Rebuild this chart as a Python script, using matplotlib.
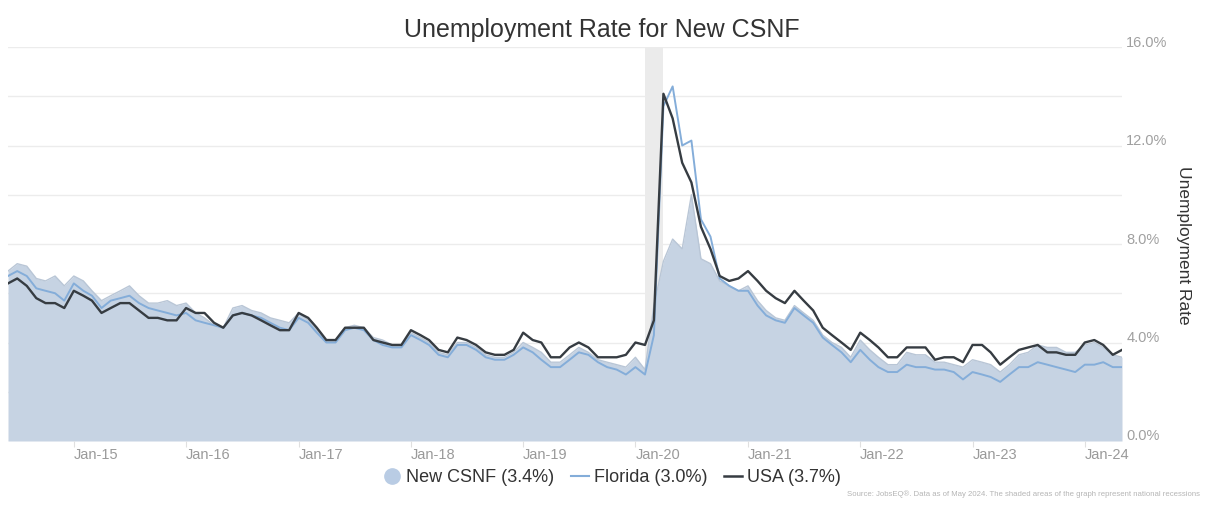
import numpy as np
import pandas as pd
import matplotlib
matplotlib.use("Agg")
import matplotlib.pyplot as plt
from matplotlib.lines import Line2D
from matplotlib.transforms import ScaledTranslation

plt.rcParams['font.family'] = ['Liberation Sans', 'DejaVu Sans']

# monthly, Jun 2014 .. May 2024 (not seasonally adjusted, %)
months = pd.date_range("2014-06-01", periods=120, freq="MS")

usa = [
    6.4, 6.6, 6.3, 5.8, 5.6, 5.6, 5.4,
    6.1, 5.9, 5.7, 5.2, 5.4, 5.6, 5.6, 5.3, 5.0, 5.0, 4.9, 4.9,
    5.4, 5.2, 5.2, 4.8, 4.6, 5.1, 5.2, 5.1, 4.9, 4.7, 4.5, 4.5,
    5.2, 5.0, 4.6, 4.1, 4.1, 4.6, 4.6, 4.6, 4.1, 4.0, 3.9, 3.9,
    4.5, 4.3, 4.1, 3.7, 3.6, 4.2, 4.1, 3.9, 3.6, 3.5, 3.5, 3.7,
    4.4, 4.1, 4.0, 3.4, 3.4, 3.8, 4.0, 3.8, 3.4, 3.4, 3.4, 3.5,
    4.0, 3.9, 4.9, 14.1, 13.1, 11.3, 10.5, 8.7, 7.8, 6.7, 6.5, 6.6,
    6.9, 6.5, 6.1, 5.8, 5.6, 6.1, 5.7, 5.3, 4.6, 4.3, 4.0, 3.7,
    4.4, 4.1, 3.8, 3.4, 3.4, 3.8, 3.8, 3.8, 3.3, 3.4, 3.4, 3.2,
    3.9, 3.9, 3.6, 3.1, 3.4, 3.7, 3.8, 3.9, 3.6, 3.6, 3.5, 3.5,
    4.0, 4.1, 3.9, 3.5, 3.7,
]

florida = [
    6.7, 6.9, 6.7, 6.2, 6.1, 6.0, 5.7,
    6.4, 6.1, 5.9, 5.4, 5.7, 5.8, 5.9, 5.6, 5.4, 5.3, 5.2, 5.1,
    5.2, 4.9, 4.8, 4.7, 4.6, 5.1, 5.2, 5.1, 5.0, 4.8, 4.6, 4.5,
    5.0, 4.8, 4.4, 4.0, 4.0, 4.5, 4.6, 4.5, 4.1, 3.9, 3.8, 3.8,
    4.3, 4.1, 3.9, 3.5, 3.4, 3.9, 3.9, 3.7, 3.4, 3.3, 3.3, 3.5,
    3.8, 3.6, 3.3, 3.0, 3.0, 3.3, 3.6, 3.5, 3.2, 3.0, 2.9, 2.7,
    3.0, 2.7, 4.3, 13.6, 14.4, 12.0, 12.2, 9.0, 8.3, 6.6, 6.3, 6.1,
    6.1, 5.5, 5.1, 4.9, 4.8, 5.4, 5.1, 4.8, 4.2, 3.9, 3.6, 3.2,
    3.7, 3.3, 3.0, 2.8, 2.8, 3.1, 3.0, 3.0, 2.9, 2.9, 2.8, 2.5,
    2.8, 2.7, 2.6, 2.4, 2.7, 3.0, 3.0, 3.2, 3.1, 3.0, 2.9, 2.8,
    3.1, 3.1, 3.2, 3.0, 3.0,
]

csnf = [
    6.9, 7.2, 7.1, 6.6, 6.5, 6.7, 6.3,
    6.7, 6.5, 6.1, 5.7, 5.9, 6.1, 6.3, 5.9, 5.6, 5.6, 5.7, 5.5,
    5.6, 5.2, 5.0, 4.7, 4.6, 5.4, 5.5, 5.3, 5.2, 5.0, 4.9, 4.8,
    5.2, 4.9, 4.5, 4.1, 4.1, 4.6, 4.7, 4.6, 4.2, 4.1, 3.9, 3.9,
    4.4, 4.2, 4.0, 3.6, 3.5, 4.0, 4.0, 3.8, 3.5, 3.4, 3.4, 3.6,
    4.0, 3.8, 3.6, 3.2, 3.2, 3.5, 3.8, 3.6, 3.3, 3.2, 3.1, 3.0,
    3.4, 2.9, 5.5, 7.3, 8.2, 7.8, 10.0, 7.4, 7.2, 6.5, 6.3, 6.1,
    6.3, 5.7, 5.3, 5.0, 4.9, 5.5, 5.2, 4.9, 4.3, 4.0, 3.8, 3.4,
    4.1, 3.7, 3.4, 3.1, 3.1, 3.6, 3.5, 3.5, 3.2, 3.2, 3.1, 3.0,
    3.3, 3.2, 3.1, 2.8, 3.1, 3.5, 3.6, 3.9, 3.8, 3.8, 3.6, 3.6,
    3.9, 4.0, 3.8, 3.5, 3.4,
]

recession = ("2020-02-01", "2020-04-01")
legend_labels = ["New CSNF (3.4%)", "Florida (3.0%)", "USA (3.7%)"]
tick_years = list(range(2015, 2025))
y_ticks = [0, 4, 8, 12, 16]

col_area = "#c6d3e3"
col_fl = "#84add9"
col_us = "#363c42"

fig = plt.figure(figsize=(12.06, 5.08), dpi=100)
ax = fig.add_axes([8/1206, 1-441/508, (1122-8)/1206, (441-47)/508])

# grid every 2%
for g in range(0, 17, 2):
    ax.axhline(g, color="#ececec", lw=1, zorder=0)

ax.axvspan(pd.Timestamp(recession[0]), pd.Timestamp(recession[1]),
           color="#ebebeb", zorder=0.5, lw=0)

ax.fill_between(months, csnf, 0, color=col_area, zorder=1, lw=0)
ax.plot(months, csnf, color="#b9c6d6", lw=1, zorder=1.5)
ax.plot(months, florida, color=col_fl, lw=1.4, zorder=2)
ax.plot(months, usa, color=col_us, lw=1.7, zorder=3)

ax.set_xlim(months[0], months[-1])
ax.set_ylim(0, 16)

for s in ax.spines.values():
    s.set_visible(False)

ticks = [pd.Timestamp(f"{y}-01-01") for y in tick_years]
ax.set_xticks(ticks)
ax.set_xticklabels([t.strftime("%b-%y") for t in ticks], ha="left")
ax.tick_params(axis="x", length=4, color="#e0e0e0", pad=1,
               labelsize=10.5, labelcolor="#9a9a9a")

ax.yaxis.tick_right()
ax.set_yticks(y_ticks)
ax.set_yticklabels([f"{v:.1f}%" for v in y_ticks])
ax.tick_params(axis="y", length=0, pad=3, labelsize=10.5, labelcolor="#a0a0a0")
for lab in ax.get_yticklabels():
    lab.set_transform(lab.get_transform() + ScaledTranslation(0, 6/100, fig.dpi_scale_trans))

ax.yaxis.set_label_position("right")
ax.set_ylabel("Unemployment Rate", rotation=270, fontsize=12.5, color="#333333",
              va="center", ha="center")
ax.yaxis.set_label_coords((1183-8)/(1122-8), (441-245)/(441-47))

fig.text(0.499, 1-30/508, "Unemployment Rate for New CSNF", ha="center", va="center",
         fontsize=18, color="#333333")

handles = [
    Line2D([], [], marker="o", ms=11, ls="none", color="#b9cce4"),
    Line2D([], [], color=col_fl, lw=1.5),
    Line2D([], [], color=col_us, lw=1.8),
]
fig.legend(handles, legend_labels, loc="center", bbox_to_anchor=(612/1206, 1-478/508),
           ncol=3, frameon=False, fontsize=13, handlelength=1.0, handletextpad=0.3,
           columnspacing=0.9, labelcolor="#333333")

fig.text(1200/1206, 1-494/508,
         "Source: JobsEQ\u00ae. Data as of May 2024. The shaded areas of the graph represent national recessions",
         ha="right", va="center", fontsize=5.6, color="#b5b5b5")

fig.savefig("out.png", dpi=100)
